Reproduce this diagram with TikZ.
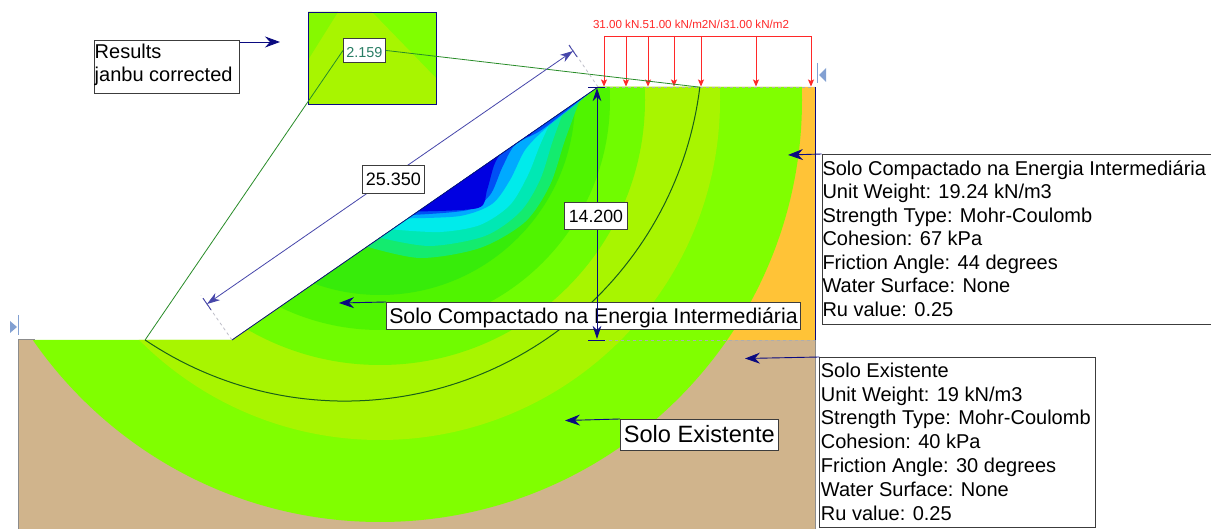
\documentclass[tikz,border=0pt]{standalone}
\usepackage{fontspec}
\setmainfont{Liberation Sans}
\usetikzlibrary{arrows.meta,calc}

\definecolor{soiltan}{RGB}{208,180,140}
\definecolor{soilorange}{RGB}{255,195,55}
\definecolor{limeA}{RGB}{128,255,0}
\definecolor{ygreen}{RGB}{168,245,0}
\definecolor{limeB}{RGB}{112,252,0}
\definecolor{greenC}{RGB}{80,244,0}
\definecolor{greenD}{RGB}{55,236,10}
\definecolor{springc}{RGB}{20,235,110}
\definecolor{aquac}{RGB}{0,232,180}
\definecolor{cyanc}{RGB}{0,235,235}
\definecolor{lblue}{RGB}{0,170,255}
\definecolor{mblue}{RGB}{0,80,245}
\definecolor{dblue}{RGB}{0,0,225}
\definecolor{navyc}{RGB}{10,10,128}
\definecolor{dimc}{RGB}{70,70,170}
\definecolor{loadred}{RGB}{255,40,40}
\definecolor{slipc}{RGB}{25,95,25}
\definecolor{radc}{RGB}{40,140,40}
\definecolor{markc}{RGB}{130,160,210}
\definecolor{fosc}{RGB}{40,125,100}
\definecolor{boundgray}{RGB}{140,140,140}
\definecolor{extgray}{RGB}{190,190,200}
\definecolor{boxgray}{RGB}{60,60,60}

\newcommand\fInfo{\fontsize{20}{24}\selectfont}

\tikzset{
  frame/.style={draw=boxgray, line width=0.9pt, fill=white},
  callout/.style={navyc, line width=0.9pt, -{Stealth[length=15pt,width=11pt,inset=5pt]}},
  dimline/.style={line width=0.8pt, {Stealth[length=13pt,width=8.5pt,inset=4pt]}-{Stealth[length=13pt,width=8.5pt,inset=4pt]}},
  loadarrow/.style={loadred, line width=0.8pt, -{Stealth[length=7pt,width=6pt,inset=1.5pt]}},
  txt/.style={anchor=base west, inner sep=0pt, text=black},
}

\begin{document}
\begin{tikzpicture}[x=1pt,y=-1pt]
\useasboundingbox (0,0) rectangle (1211,529);
\fill[white] (0,0) rectangle (1211,529);

% geometry of the section
\coordinate (toe) at (232,340);
\coordinate (crest) at (598,87);
\coordinate (topR) at (815,87);
\coordinate (gR) at (815,340);
\coordinate (gL) at (18,340);

% materials
\fill[soiltan] (gL) rectangle (815,529);
\fill[soilorange] (toe) -- (crest) -- (topR) -- (gR) -- cycle;

% safety factor contours
\begin{scope}
  \clip (toe) -- (crest) -- (topR) -- (815,529) -- (18,529) -- (gL) -- cycle;
  \fill[limeA]  (380,100) circle[radius=422];
  \fill[ygreen] (380,100) circle[radius=340];
  \fill[limeB]  (380,100) circle[radius=265];
  \fill[greenC] (380,100) circle[radius=230];
  \fill[greenD] (380,100) circle[radius=195];
  \fill[springc] plot[smooth] coordinates {(365,246.1) (420,258) (480,248) (525,222) (550,185) (565,140) (580,99.5)} -- (600,30) -- (355,30) -- cycle;
  \fill[aquac] plot[smooth] coordinates {(380,237.7) (430,246) (485,236) (520,212) (540,180) (553,140) (565,107.5)} -- (600,30) -- (370,30) -- cycle;
  \fill[cyanc] plot[smooth] coordinates {(392,229.4) (440,232) (480,225) (510,205) (528,175) (540,145) (552,118.8)} -- (600,30) -- (382,30) -- cycle;
  \fill[lblue] plot[smooth] coordinates {(408,218.3) (460,216) (492,204) (510,180) (525,150) (545,129) (570,109) (591,92)} -- (600,30) -- (398,30) -- cycle;
  \fill[mblue] plot[smooth] coordinates {(413,214.9) (468,210) (490,195) (502,168) (515,145) (540,131) (565,112) (589,93)} -- (600,30) -- (403,30) -- cycle;
  \fill[dblue] plot[smooth] coordinates {(418,211.4) (478,208) (487,190) (495,163) (508,145) (530,135.5)} -- (600,30) -- (408,30) -- cycle;
\end{scope}

% boundaries
\draw[navyc, line width=0.8pt] (toe) -- (crest);
\draw[boundgray, line width=1pt] (18,529) -- (gL) -- (35,340);
\draw[boundgray, line width=1pt] (gR) -- (815,529);
\draw[navyc, line width=1pt] (topR) -- (gR);
\draw[boundgray!70, dashed, line width=0.8pt] (crest) -- (topR);
\draw[boundgray!70, dashed, line width=0.8pt] (597,340) -- (gR);

% boundary markers
\draw[markc, line width=1pt] (18,315) -- (18,335);
\fill[markc] (10,321) -- (17,327) -- (10,333) -- cycle;
\draw[markc, line width=1pt] (817,63) -- (817,83);
\fill[markc] (826,68) -- (819,75) -- (826,82) -- cycle;

% distributed load
\draw[loadred, line width=0.8pt] (604,36) -- (811,36);
\foreach \lx in {604,626,648,674,701,756,811}
  \draw[loadarrow] (\lx,36) -- (\lx,86.5);
\node[anchor=base, inner sep=0pt, text=loadred, font=\fontsize{11.6}{12}\selectfont] (load) at (691,28.5) {31.00 kN.51.00 kN/m2N/ı31.00 kN/m2};

% slip centre view
\fill[limeA] (308,12) rectangle (436,104);
\fill[ygreen] (308,12) -- (372,12) -- (436,78) -- (436,104) -- (308,104) -- cycle;
\fill[limeB!60!ygreen] (308,12) -- (338,12) -- (308,60) -- cycle;
\node[draw=navyc, line width=0.8pt, minimum width=128pt, minimum height=92pt, anchor=north west, inner sep=0pt] (inset) at (308,12) {};

% critical slip surface
\coordinate (slipL) at ({345+357.5*cos(124)},{43.6+357.5*sin(124)});
\coordinate (slipR) at ({345+357.5*cos(7)},{43.6+357.5*sin(7)});
\node[frame, anchor=north west, inner xsep=3pt, inner ysep=0pt, text height=18.7pt, text depth=5.3pt, text=fosc, font=\fontsize{14.4}{16}\selectfont] (fos) at (343,38) {2.159};
\draw[radc, line width=0.8pt] (slipL) -- (fos.west);
\draw[radc, line width=0.8pt] (fos.east) -- (slipR);
\draw[slipc, line width=1pt] plot[domain=7:124, samples=90] ({345+357.5*cos(\x)},{43.6+357.5*sin(\x)});

% slope length dimension
\coordinate (dA) at (207,304);
\coordinate (dB) at (573,51);
\draw[extgray, dashed, line width=0.8pt] (toe) -- (201,295.5);
\draw[extgray, dashed, line width=0.8pt] (crest) -- (568,43);
\draw[dimc, line width=0.9pt] (203,298.2) -- (211,309.8);
\draw[dimc, line width=0.9pt] (569,45.2) -- (577,56.8);
\draw[dimline, dimc] (dA) -- (dB);
\node[frame, anchor=north west, inner xsep=3.5pt, inner ysep=0pt, text height=20pt, text depth=8pt, font=\fontsize{18}{20}\selectfont] (dimS) at (362,165) {25.350};

% material labels on the section
\node[frame, anchor=north west, inner xsep=2.8pt, inner ysep=0pt, text height=20.7pt, text depth=6.3pt, font=\fontsize{21.3}{24}\selectfont] (lblC) at (386,302) {Solo Compactado na Energia Intermediária};
\coordinate (tipC) at (339,303);
\draw[callout] (lblC.north west) -- (tipC);
\node[frame, anchor=north west, inner xsep=3.4pt, inner ysep=0pt, text height=22.7pt, text depth=8.3pt, font=\fontsize{23.6}{26}\selectfont] (lblE) at (620,419) {Solo Existente};
\coordinate (tipE) at (565,420.5);
\draw[callout] (lblE.north west) -- (tipE);

% height dimension
\coordinate (hT) at (597,88);
\coordinate (hB) at (597,339);
\draw[navyc, line width=0.9pt] (588,87) -- (605,87);
\draw[navyc, line width=0.9pt] (588,340) -- (605,340);
\draw[dimline, navyc] (hT) -- (hB);
\node[frame, anchor=north west, inner xsep=4.4pt, inner ysep=0pt, text height=19.7pt, text depth=7.3pt, font=\fontsize{17.7}{20}\selectfont] (dimH) at (564,202) {14.200};

% results legend
\node[frame, anchor=north west, minimum width=145pt, minimum height=53pt, inner sep=0pt] (res) at (94,40) {};
\node[txt, font=\fInfo] (res1) at (94.5,58.3) {Results};
\node[txt, font=\fInfo] (res2) at (94.5,81.3) {janbu corrected};
\coordinate (resTip) at (280,42);
\draw[callout] ($(res.north east)+(0,2)$) -- (resTip);

% material property boxes
\node[frame, anchor=north west, minimum width=394pt, minimum height=170pt, inner sep=0pt] (info1) at (821.5,154) {};
\foreach \t [count=\i] in {Solo Compactado na Energia Intermediária, Unit Weight: 19.24 kN/m3, Strength Type: Mohr-Coulomb, Cohesion: 67 kPa, Friction Angle: 44 degrees, Water Surface: None, Ru value: 0.25}
  \node[txt, font=\fInfo] (infoA\i) at (822.3,{175.5+23.5*(\i-1)}) {\t};
\coordinate (tip1) at (788,155);
\draw[callout] (info1.north west) -- (tip1);

\node[frame, anchor=north west, minimum width=276pt, minimum height=170pt, inner sep=0pt] (info2) at (819.3,357) {};
\foreach \t [count=\i] in {Solo Existente, Unit Weight: 19 kN/m3, Strength Type: Mohr-Coulomb, Cohesion: 40 kPa, Friction Angle: 30 degrees, Water Surface: None, Ru value: 0.25}
  \node[txt, font=\fInfo] (infoB\i) at (820.7,{377.3+23.8*(\i-1)}) {\t};
\coordinate (tip2) at (745,358.5);
\draw[callout] (info2.north west) -- (tip2);

\end{tikzpicture}
\end{document}
